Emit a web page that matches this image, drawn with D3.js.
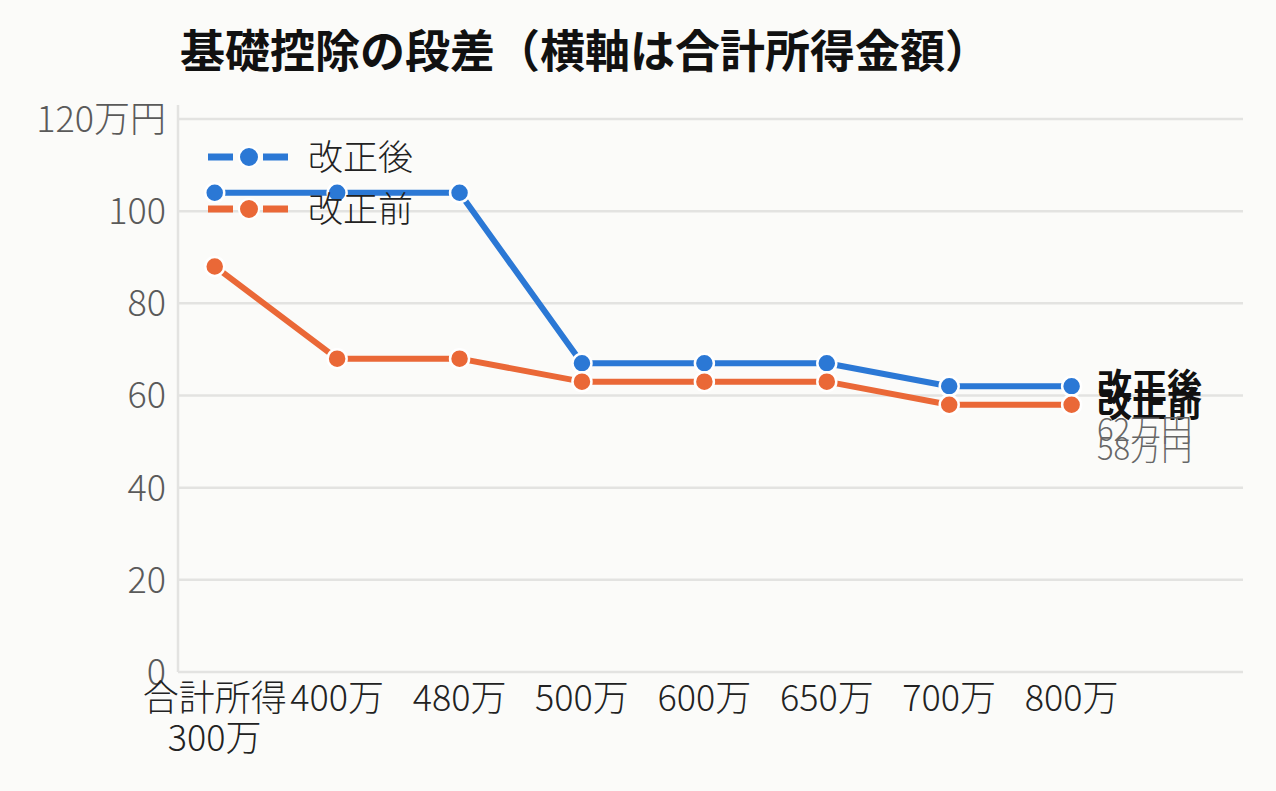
<!DOCTYPE html>
<html>
<head>
<meta charset="utf-8">
<script src="https://cdn.jsdelivr.net/npm/d3@7"></script>
<style>
  html, body { margin: 0; padding: 0; background: #fbfbf9; }
  svg { display: block; font-family: "Noto Sans CJK JP", "Noto Sans", sans-serif; }
</style>
</head>
<body>
<svg id="chart"></svg>
<script>
// data
const categories = ["合計所得\n300万", "400万", "480万", "500万", "600万", "650万", "700万", "800万"];
const afterValues = [104, 104, 104, 67, 67, 67, 62, 62];   // 改正後
const beforeValues = [88, 68, 68, 63, 63, 63, 58, 58];     // 改正前
const seriesNames = ["改正後", "改正前"];
const yTicks = [0, 20, 40, 60, 80, 100, 120];

const width = 1276, height = 791;
const margin = {top: 119, right: 33, bottom: 119, left: 178};
const blue = "#2b78d5", orange = "#ea6837";

const svg = d3.select("#chart")
    .attr("width", width)
    .attr("height", height);

svg.append("rect").attr("width", width).attr("height", height).attr("fill", "#fbfbf9");

// title
svg.append("text")
    .attr("x", 180)
    .attr("y", 68)
    .style("font-size", "45px")
    .style("font-weight", "bold")
    .attr("fill", "#111")
    .text("基礎控除の段差（横軸は合計所得金額）");

var x = d3.scaleLinear()
    .domain([-0.3, 8.4])
    .range([margin.left, width - margin.right]);
var y = d3.scaleLinear()
    .domain([0, 120])
    .range([height - margin.bottom, margin.top]);

// gridlines
svg.append("g")
    .selectAll("line")
    .data(yTicks.filter(d => d > 0))
    .enter().append("line")
    .attr("x1", margin.left)
    .attr("x2", width - margin.right)
    .attr("y1", d => y(d))
    .attr("y2", d => y(d))
    .attr("stroke", "#e3e3e1")
    .attr("stroke-width", 2.5);

// axis lines
svg.append("line")
    .attr("x1", margin.left).attr("x2", margin.left)
    .attr("y1", 105).attr("y2", y(0))
    .attr("stroke", "#e3e3e1").attr("stroke-width", 2.5);
svg.append("line")
    .attr("x1", margin.left).attr("x2", width - margin.right)
    .attr("y1", y(0)).attr("y2", y(0))
    .attr("stroke", "#e3e3e1").attr("stroke-width", 2.5);

// y tick labels
svg.append("g")
    .selectAll("text")
    .data(yTicks)
    .enter().append("text")
    .attr("x", 166)
    .attr("y", d => y(d))
    .attr("dy", "0.36em")
    .attr("text-anchor", "end")
    .attr("fill", "#5a5a5a")
    .style("font-size", "36px")
    .style("font-weight", 300)
    .text(d => d === 120 ? d + "万円" : d);

// x tick labels
var xl = svg.append("g")
    .selectAll("text")
    .data(categories)
    .enter().append("text")
    .attr("x", (d, i) => x(i))
    .attr("y", 711)
    .attr("text-anchor", "middle")
    .attr("fill", "#222")
    .style("font-size", "36px")
    .style("font-weight", 300);
xl.each(function(d, i) {
    var t = d3.select(this);
    d.split("\n").forEach(function(part, j) {
        t.append("tspan")
            .attr("x", x(i))
            .attr("dy", j === 0 ? 0 : 40)
            .text(part);
    });
});

var line = d3.line()
    .x((d, i) => x(i))
    .y(d => y(d));

function drawSeries(values, color) {
    svg.append("path")
        .datum(values)
        .attr("fill", "none")
        .attr("stroke", color)
        .attr("stroke-width", 6)
        .attr("stroke-linejoin", "round")
        .attr("d", line);
    svg.append("g")
        .selectAll("circle")
        .data(values)
        .enter().append("circle")
        .attr("cx", (d, i) => x(i))
        .attr("cy", d => y(d))
        .attr("r", 9.5)
        .attr("fill", color)
        .attr("stroke", "#fff")
        .attr("stroke-width", 2.5);
}
drawSeries(afterValues, blue);
drawSeries(beforeValues, orange);

// legend
var legend = svg.append("g")
    .selectAll("g")
    .data(seriesNames)
    .enter().append("g")
    .attr("transform", (d, i) => "translate(208," + (157 + i * 52) + ")");
legend.append("line")
    .attr("x1", 0).attr("x2", 80)
    .attr("stroke", (d, i) => i === 0 ? blue : orange)
    .attr("stroke-width", 7)
    .attr("stroke-dasharray", "25 30");
legend.append("circle")
    .attr("cx", 41)
    .attr("r", 10)
    .attr("fill", (d, i) => i === 0 ? blue : orange)
    .attr("stroke", "#fff")
    .attr("stroke-width", 2);
legend.append("text")
    .attr("x", 100)
    .attr("dy", "0.36em")
    .attr("fill", "#222")
    .style("font-size", "35px")
    .style("font-weight", 300)
    .text(d => d);

// end labels
var last = categories.length - 1;
var ends = [
    {name: seriesNames[0], v: afterValues[last]},
    {name: seriesNames[1], v: beforeValues[last]}
];
svg.append("g")
    .selectAll("text")
    .data(ends)
    .enter().append("text")
    .attr("x", 1097)
    .attr("y", d => y(d.v))
    .attr("dy", "0.36em")
    .attr("fill", "#111")
    .style("font-size", "35px")
    .style("font-weight", "bold")
    .text(d => d.name);
svg.append("g")
    .selectAll("text")
    .data(ends)
    .enter().append("text")
    .attr("x", 1097)
    .attr("y", d => y(d.v) + 44)
    .attr("dy", "0.36em")
    .attr("fill", "#666")
    .style("font-size", "31px")
    .style("font-weight", 300)
    .text(d => d.v + "万円");
</script>
</body>
</html>
